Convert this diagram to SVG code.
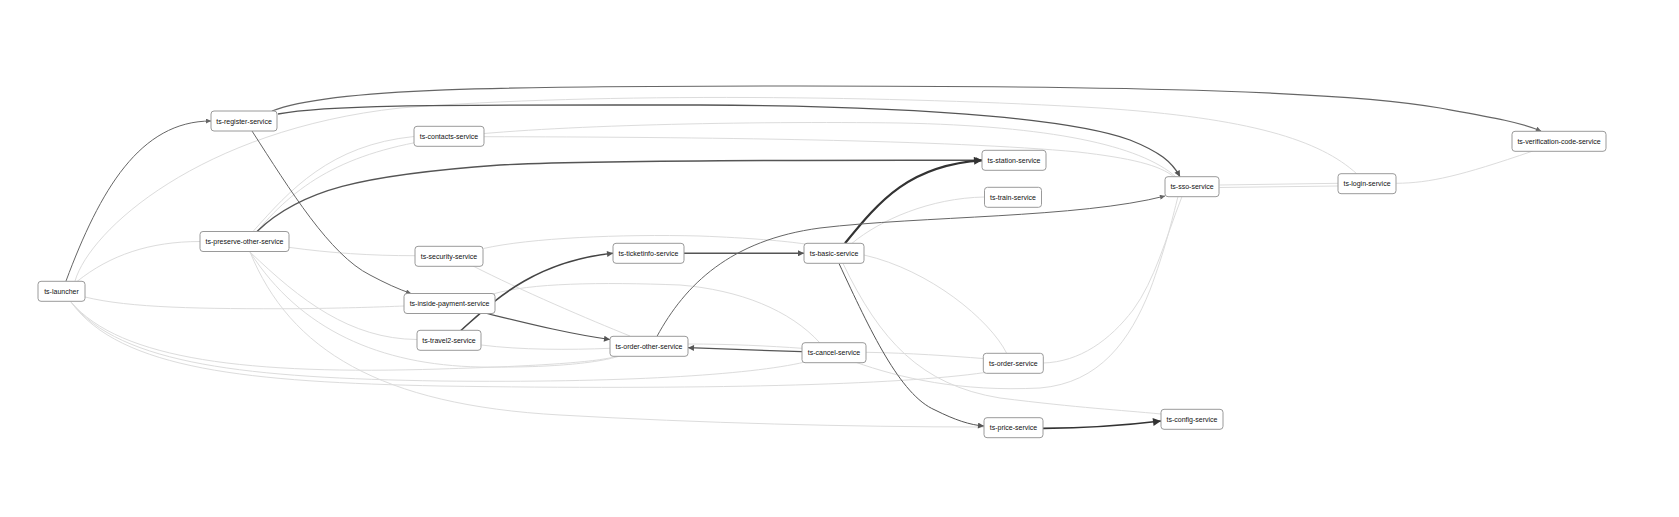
<svg xmlns="http://www.w3.org/2000/svg" width="1679" height="517" viewBox="0 0 1679 517">
<style>
.node rect{fill:#fff;stroke:#9a9a9a;stroke-width:1}
.node text{font-family:"Liberation Sans",Arial,sans-serif;font-size:7px;fill:#111;text-anchor:middle}
.lt{fill:none;stroke:#dcdcdc;stroke-width:1}
.dk{fill:none}
</style>
<defs>
<marker id="a6" viewBox="0 0 10 10" refX="10" refY="5" markerUnits="userSpaceOnUse" markerWidth="6" markerHeight="5" orient="auto"><path d="M0,0L10,5L0,10z" fill="#666"/></marker>
<marker id="a5" viewBox="0 0 10 10" refX="10" refY="5" markerUnits="userSpaceOnUse" markerWidth="7" markerHeight="6" orient="auto"><path d="M0,0L10,5L0,10z" fill="#555"/></marker>
<marker id="a3" viewBox="0 0 10 10" refX="10" refY="5" markerUnits="userSpaceOnUse" markerWidth="9" markerHeight="8" orient="auto"><path d="M0,0L10,5L0,10z" fill="#333"/></marker>
</defs>
<rect width="1679" height="517" fill="#fff"/>
<g id="connectors">
<path class="lt" d="M77,281.5 C110,255 150,241.5 200,241.5"/>
<path class="lt" d="M75,281 C90,230 200,130 400,108 C600,92 900,96 1100,108 C1250,118 1320,140 1357,174"/>
<path class="lt" d="M85,297 C130,308 200,309 300,308.7 C350,308 380,307 404,306"/>
<path class="lt" d="M71,302 C120,360 250,375 440,369 C540,366 600,362 617,356"/>
<path class="lt" d="M71,302 C120,365 250,378 440,381 C620,383 750,375 805,362"/>
<path class="lt" d="M71,302 C120,370 250,382 440,386 C700,390 900,385 985,372.5"/>
<path class="lt" d="M253,231.5 C290,190 330,145 414,136.5"/>
<path class="lt" d="M257,231.5 C300,180 350,150 450,137 C550,125 750,121 900,123 C1050,126 1140,145 1176,177"/>
<path class="lt" d="M484,136.7 C700,137 950,140 1078,152 C1130,158 1160,165 1174,177"/>
<path class="lt" d="M288.7,247.3 C330,253 370,255.7 415,255.7"/>
<path class="lt" d="M250,252 C300,300 350,339 417,339.5"/>
<path class="lt" d="M250,252 C300,330 380,365 480,367 C560,368 600,362 620,356"/>
<path class="lt" d="M250,252 C290,350 380,405 560,415 C700,423 850,427 984,427"/>
<path class="lt" d="M483.5,248.5 C530,238 620,234 700,236 C750,238 785,241 805,244"/>
<path class="lt" d="M473,266 C520,290 590,320 630,336"/>
<path class="lt" d="M493,294 C530,283 600,282 680,285 C740,290 790,310 820,343"/>
<path class="lt" d="M481.3,345 C520,350 570,350 610,348.3"/>
<path class="lt" d="M688,344 C730,344 770,346 802,348.3"/>
<path class="lt" d="M852,243.3 C880,220 930,198 984.5,197"/>
<path class="lt" d="M864,255 C930,270 990,320 1006.7,353.3"/>
<path class="lt" d="M843,263.5 C880,340 920,385 1000,398 C1080,408 1120,410 1161,414"/>
<path class="lt" d="M866,352.3 C910,353 950,356 983,358.5"/>
<path class="lt" d="M855,362 C900,378 960,392 1040,388 C1100,383 1130,340 1150,290 C1165,250 1172,220 1178,196.5"/>
<path class="lt" d="M1043,363 C1080,362 1110,340 1133,310 C1155,280 1165,240 1182,196.5"/>
<path class="lt" d="M1219.5,185 L1338,183.3"/>
<path class="lt" d="M1219.5,187.5 L1338,186"/>
<path class="lt" d="M1396.3,183.3 C1430,183 1460,176 1533,151"/>
<path class="dk" stroke="#666" stroke-width="1" marker-end="url(#a6)" d="M66,281 C100,190 140,121 211,121"/>
<path class="dk" stroke="#666" stroke-width="1.2" marker-end="url(#a6)" d="M272,111 C330,88 500,86 800,86 C1150,86 1350,92 1440,108 C1490,117 1520,122 1541,131"/>
<path class="dk" stroke="#555" stroke-width="1.3" marker-end="url(#a5)" d="M278,114 C330,104 450,105 700,105 C950,106 1080,122 1130,140 C1160,152 1172,162 1180,176.7"/>
<path class="dk" stroke="#666" stroke-width="1" marker-end="url(#a6)" d="M252,131 C290,190 330,255 370,275 C385,283 398,289 411,293.5"/>
<path class="dk" stroke="#555" stroke-width="1.4" marker-end="url(#a5)" d="M257,231.5 C300,190 360,175 500,165 C600,160 800,160 982,160.3"/>
<path class="dk" stroke="#333" stroke-width="2.2" marker-end="url(#a3)" d="M845,243.3 C880,200 910,165 982,160.3"/>
<path class="dk" stroke="#555" stroke-width="1.4" marker-end="url(#a5)" d="M684,253.3 L804,253.3"/>
<path class="dk" stroke="#444" stroke-width="1.6" marker-end="url(#a5)" d="M461,330.3 C490,305 530,262 613,253.3"/>
<path class="dk" stroke="#555" stroke-width="1.2" marker-end="url(#a5)" d="M487,313.5 C530,324 570,334 610,339.5"/>
<path class="dk" stroke="#555" stroke-width="1.2" marker-end="url(#a5)" d="M802,351.7 C760,350.5 720,349 688,347.7"/>
<path class="dk" stroke="#666" stroke-width="1" marker-end="url(#a6)" d="M657,336.3 C685,285 730,240 820,228 C920,216 1080,218 1165,196"/>
<path class="dk" stroke="#555" stroke-width="1" marker-end="url(#a5)" d="M839,263.5 C870,330 900,395 935,410 C955,420 970,425 984,426"/>
<path class="dk" stroke="#333" stroke-width="1.7" marker-end="url(#a3)" d="M1043,428.3 C1090,428 1120,426 1161,421"/>
</g>
<g id="n-launcher" class="node"><rect x="38" y="281.3" width="47" height="20" rx="3"/><text x="61.5" y="293.8">ts-launcher</text></g>
<g id="n-register" class="node"><rect x="211" y="111" width="66" height="20" rx="3"/><text x="244" y="123.5">ts-register-service</text></g>
<g id="n-preserve-other" class="node"><rect x="200" y="231.5" width="89" height="20" rx="3"/><text x="244.5" y="244">ts-preserve-other-service</text></g>
<g id="n-contacts" class="node"><rect x="414" y="126.3" width="70" height="20" rx="3"/><text x="449" y="138.8">ts-contacts-service</text></g>
<g id="n-security" class="node"><rect x="415" y="246.3" width="68" height="20" rx="3"/><text x="449" y="258.8">ts-security-service</text></g>
<g id="n-inside-payment" class="node"><rect x="404" y="293.5" width="91" height="20" rx="3"/><text x="449.5" y="306">ts-inside-payment-service</text></g>
<g id="n-travel2" class="node"><rect x="417" y="330.3" width="64" height="20" rx="3"/><text x="449" y="342.8">ts-travel2-service</text></g>
<g id="n-ticketinfo" class="node"><rect x="613" y="243.3" width="71" height="20" rx="3"/><text x="648.5" y="255.8">ts-ticketinfo-service</text></g>
<g id="n-order-other" class="node"><rect x="610" y="336.3" width="78" height="20" rx="3"/><text x="649" y="348.8">ts-order-other-service</text></g>
<g id="n-basic" class="node"><rect x="804" y="243.3" width="60" height="20" rx="3"/><text x="834" y="255.8">ts-basic-service</text></g>
<g id="n-cancel" class="node"><rect x="802" y="342.7" width="64" height="20" rx="3"/><text x="834" y="355.2">ts-cancel-service</text></g>
<g id="n-station" class="node"><rect x="982" y="150.3" width="64" height="20" rx="3"/><text x="1014" y="162.8">ts-station-service</text></g>
<g id="n-train" class="node"><rect x="984.5" y="187.3" width="57" height="20" rx="3"/><text x="1013" y="199.8">ts-train-service</text></g>
<g id="n-sso" class="node"><rect x="1165" y="176.7" width="54" height="20" rx="3"/><text x="1192" y="189.2">ts-sso-service</text></g>
<g id="n-login" class="node"><rect x="1338" y="173.7" width="58" height="20" rx="3"/><text x="1367" y="186.2">ts-login-service</text></g>
<g id="n-verification-code" class="node"><rect x="1512" y="131.3" width="94" height="20" rx="3"/><text x="1559" y="143.8">ts-verification-code-service</text></g>
<g id="n-order" class="node"><rect x="983.3" y="353.3" width="60" height="20" rx="3"/><text x="1013.3" y="365.8">ts-order-service</text></g>
<g id="n-price" class="node"><rect x="984" y="417.7" width="59" height="20" rx="3"/><text x="1013.5" y="430.2">ts-price-service</text></g>
<g id="n-config" class="node"><rect x="1161" y="409.3" width="62" height="20" rx="3"/><text x="1192" y="421.8">ts-config-service</text></g>
</svg>
